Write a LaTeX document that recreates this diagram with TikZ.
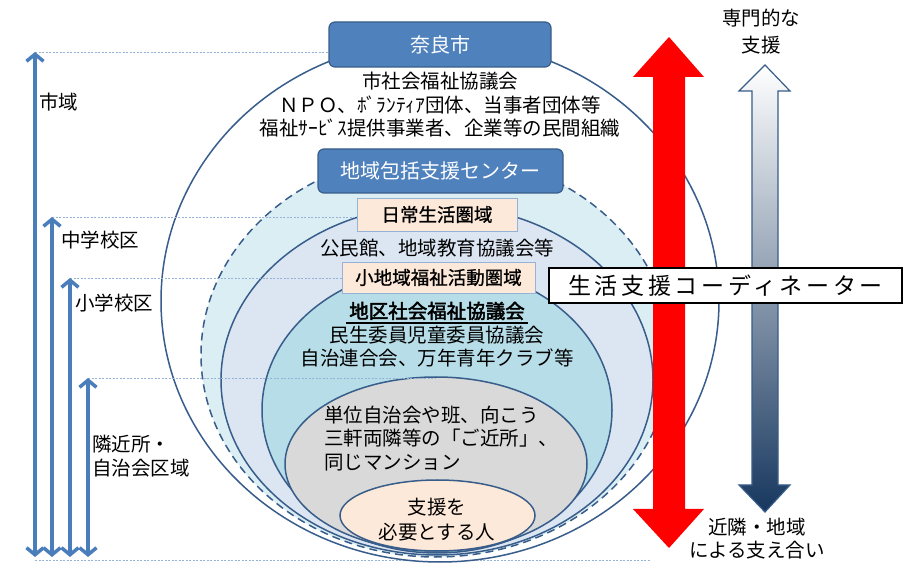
\documentclass[tikz,border=0pt]{standalone}
\usepackage{fontspec}
\setmainfont{Noto Sans CJK JP}
\newfontfamily\semibold[FakeBold=1]{Noto Sans CJK JP}
\newfontfamily\heavy[FakeBold=2.5]{Noto Sans CJK JP}
\newfontfamily\widefont[LetterSpace=16]{Noto Sans CJK JP}
\usetikzlibrary{arrows.meta,calc}
\definecolor{rimblue}{HTML}{385D8A}
\definecolor{boxblue}{HTML}{4F81BD}
\definecolor{zonecyan}{HTML}{DBEEF4}
\definecolor{zonelav}{HTML}{DCE6F2}
\definecolor{zoneblue}{HTML}{B7DEE8}
\definecolor{zonegray}{HTML}{D9D9D9}
\definecolor{zonepeach}{HTML}{FDE9D9}
\definecolor{guideblue}{HTML}{95B3D7}
\definecolor{reachblue}{HTML}{4A7EBB}
\definecolor{navy}{HTML}{17375E}
\definecolor{midblue}{HTML}{BCCDEB}
\begin{document}
\begin{tikzpicture}[x=1pt,y=-1pt,
    zone/.style={draw=rimblue,line width=1.5pt},
    bluebox/.style={draw=rimblue,fill=boxblue,line width=1.2pt,rounded corners=6pt,
      text=white,inner sep=0pt,font=\fontsize{20}{24}\selectfont},
    areabox/.style={draw=guideblue,fill=zonepeach,line width=0.8pt,inner sep=0pt,
      font=\semibold\fontsize{18.5}{22}\selectfont},
    guide/.style={draw=guideblue,line width=0.8pt,dash pattern=on 2pt off 1.5pt},
    reach/.style={draw=reachblue,line width=3.5pt,
      {Straight Barb[length=7pt,width=17pt]}-{Straight Barb[length=7pt,width=17pt]}},
    bodytext/.style={inner sep=0pt,align=center,font=\fontsize{19.5}{23.5}\selectfont}]
  \useasboundingbox[fill=white] (0,0) rectangle (914,569);
  % levels on the left
  \coordinate(cityTop) at (35,52);   \coordinate(cityBot) at (35,557);
  \coordinate(juniorTop) at (52,217); \coordinate(juniorBot) at (52,557);
  \coordinate(primaryTop) at (70,278); \coordinate(primaryBot) at (70,557);
  \coordinate(nearTop) at (88,378);  \coordinate(nearBot) at (88,557);
  \draw[guide] (35,560)--(650,560);
  % nested areas
  \draw[zone,fill=white] (440,301) ellipse [x radius=279,y radius=261];
  \draw[zone,fill=zonecyan,dash pattern=on 8pt off 5pt] (436,355) ellipse [x radius=235,y radius=202];
  \draw[zone,fill=zonelav] (437,380) ellipse [x radius=216,y radius=175];
  \draw[zone,fill=zoneblue] (437,410) ellipse [x radius=175,y radius=143];
  \draw[zone,fill=zonegray] (436,464) ellipse [x radius=151,y radius=87];
  \draw[zone,fill=zonepeach] (437.5,515.5) ellipse [x radius=97.5,y radius=35.5];
  % titles
  \node[bluebox,minimum width=222pt,minimum height=45pt] (nara) at (440,44.5) {奈良市};
  \node[bluebox,minimum width=245pt,minimum height=44pt] (center) at (440.5,171) {地域包括支援センター};
  \node[areabox,minimum width=160pt,minimum height=33pt] (daily) at (437,214.5) {日常生活圏域};
  \node[areabox,minimum width=193pt,minimum height=31pt] (small) at (438.5,277.5) {小地域福祉活動圏域};
  \node[bodytext] (cityText) at (440,105) {市社会福祉協議会\\ＮＰＯ、ﾎﾞﾗﾝﾃｨｱ団体、当事者団体等\\福祉ｻｰﾋﾞｽ提供事業者、企業等の民間組織};
  \node[bodytext] (dailyText) at (437,248) {公民館、地域教育協議会等};
  \node[bodytext,font=\heavy\fontsize{19.5}{23.5}\selectfont] (district) at (437,311) {地区社会福祉協議会};
  \coordinate (ulineL) at (346,323);
  \coordinate (ulineR) at (528,323);
  \draw[black,line width=1.3pt] (ulineL)--(ulineR);
  \node[bodytext] (districtText) at (437,346.5) {民生委員児童委員協議会\\自治連合会、万年青年クラブ等};
  \node[bodytext,align=left,anchor=west] (nearText) at (324,438.5) {単位自治会や班、向こう\\三軒両隣等の「ご近所」、\\同じマンション};
  \node[bodytext,font=\fontsize{19.5}{25}\selectfont] (person) at (437,519.5) {支援を\\必要とする人};
  % ranges
  \draw[guide] (cityTop)--(nara.west |- cityTop);
  \draw[guide] (juniorTop)--(daily.west |- juniorTop);
  \draw[guide] (primaryTop)--(small.west |- primaryTop);
  \draw[guide] (nearTop)--(436,378);
  \draw[reach] (cityBot)--(cityTop);
  \draw[reach] (juniorBot)--(juniorTop);
  \draw[reach] (primaryBot)--(primaryTop);
  \draw[reach] (nearBot)--(nearTop);
  \node[bodytext,anchor=west] (cityLab) at (39,102) {市域};
  \node[bodytext,anchor=west] (juniorLab) at (61,240) {中学校区};
  \node[bodytext,anchor=west] (primaryLab) at (75,303) {小学校区};
  \node[bodytext,align=left,anchor=west] (nearLab) at (92,456) {隣近所・\\自治会区域};
  % arrows on the right
  \fill[red] (669,37)--(704,77)--(685,77)--(685,509)--(704,509)--(669,548)
    --(633,509)--(653,509)--(653,77)--(633,77)--cycle;
  \draw[rimblue,line width=1.2pt,top color=white,middle color=midblue,bottom color=navy]
    (765,65)--(790,91)--(778,91)--(778,485)--(790,485)--(765,512)
    --(739,485)--(752,485)--(752,91)--(739,91)--cycle;
  \node[bodytext,font=\fontsize{19.5}{27}\selectfont] (expert) at (761,31.5) {専門的な\\支援};
  \node[bodytext] (mutual) at (757,538.5) {近隣・地域\\による支え合い};
  \node[draw=black,fill=white,line width=1.5pt,minimum width=353pt,minimum height=35pt,
    inner sep=0pt,font=\widefont\fontsize{23}{26}\selectfont] (coord) at (725.5,285.5) {生活支援コーディネーター};
\end{tikzpicture}
\end{document}
